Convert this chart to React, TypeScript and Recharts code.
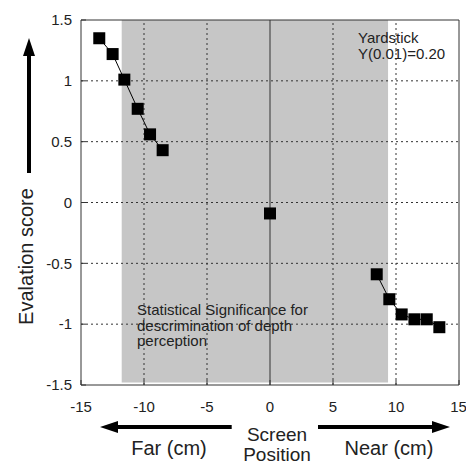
import { ScatterChart, Scatter, XAxis, YAxis, ReferenceArea, ReferenceLine } from 'recharts';

const farX = [-13.55, -12.49, -11.56, -10.5, -9.52, -8.52];
const farY = [1.35, 1.22, 1.01, 0.77, 0.56, 0.43];
const centerX = [0];
const centerY = [-0.09];
const nearX = [8.47, 9.47, 10.45, 11.46, 12.44, 13.44];
const nearY = [-0.59, -0.795, -0.92, -0.96, -0.96, -1.025];

const xTicks = [-15, -10, -5, 0, 5, 10, 15];
const yTicks = [-1.5, -1, -0.5, 0, 0.5, 1, 1.5];
const xGrid = [-10, -5, 5, 10];
const yGrid = [-1, -0.5, 0, 0.5, 1];
const significantRange = [-11.77, 9.37];

const toPoints = (xs: number[], ys: number[]) => xs.map((x, i) => ({ x, y: ys[i] }));

const FONT = '"Liberation Sans", Arial, Helvetica, sans-serif';
const INK = '#222';

const Square = (props: any) => {
  const { cx, cy } = props;
  if (cx == null || cy == null) return null;
  return <rect x={cx - 6} y={cy - 6} width={12} height={12} fill="#000" />;
};

const tickStyle = { fill: INK, fontSize: 15, fontFamily: FONT };

export default function App() {
  return (
    <div style={{ position: 'absolute', left: 0, top: 0, width: 466, height: 465, background: '#fff' }}>
      <ScatterChart width={466} height={465} margin={{ top: 19, right: 6, bottom: 0, left: 0 }}>
        <XAxis
          xAxisId="b"
          type="number"
          dataKey="x"
          domain={[-15, 15]}
          ticks={xTicks}
          height={80}
          tick={tickStyle}
          tickSize={-5}
          tickMargin={21}
          stroke="#333"
          allowDataOverflow
        />
        <XAxis
          xAxisId="t"
          orientation="top"
          type="number"
          dataKey="x"
          domain={[-15, 15]}
          ticks={xTicks}
          height={1}
          tick={false}
          stroke="#333"
        />
        <YAxis
          yAxisId="l"
          type="number"
          dataKey="y"
          domain={[-1.5, 1.5]}
          ticks={yTicks}
          width={81}
          tick={tickStyle}
          tickSize={-5}
          tickMargin={14}
          stroke="#333"
          allowDataOverflow
        />
        <YAxis
          yAxisId="r"
          orientation="right"
          type="number"
          dataKey="y"
          domain={[-1.5, 1.5]}
          ticks={yTicks}
          width={1}
          tick={false}
          stroke="#333"
        />
        <ReferenceArea
          xAxisId="b"
          yAxisId="l"
          x1={significantRange[0]}
          x2={significantRange[1]}
          y1={-1.48}
          y2={1.5}
          fill="#c6c6c6"
          fillOpacity={1}
          stroke="none"
        />
        {xGrid.map(v => (
          <ReferenceLine key={'x' + v} xAxisId="b" yAxisId="l" x={v} stroke="#333" strokeDasharray="2 3" />
        ))}
        {yGrid.map(v => (
          <ReferenceLine key={'y' + v} xAxisId="b" yAxisId="l" y={v} stroke="#333" strokeDasharray="2 3" />
        ))}
        <ReferenceLine xAxisId="b" yAxisId="l" x={0} stroke="#333" />
        <Scatter
          xAxisId="b"
          yAxisId="l"
          data={toPoints(farX, farY)}
          line={{ stroke: '#000', strokeWidth: 1 }}
          shape={<Square />}
          isAnimationActive={false}
        />
        <Scatter
          xAxisId="b"
          yAxisId="l"
          data={toPoints(centerX, centerY)}
          shape={<Square />}
          isAnimationActive={false}
        />
        <Scatter
          xAxisId="b"
          yAxisId="l"
          data={toPoints(nearX, nearY)}
          line={{ stroke: '#000', strokeWidth: 1 }}
          shape={<Square />}
          isAnimationActive={false}
        />
      </ScatterChart>
      <svg
        width={466}
        height={465}
        style={{ position: 'absolute', left: 0, top: 0, pointerEvents: 'none' }}
        fontFamily={FONT}
      >
        <text fill={INK} fontSize={15}>
          <tspan x={358} y={43}>Yardstick</tspan>
          <tspan x={358} y={58.5}>Y(0.01)=0.20</tspan>
        </text>
        <text fill={INK} fontSize={15}>
          <tspan x={137} y={315}>Statistical Significance for</tspan>
          <tspan x={137} y={330.5}>descrimination of depth</tspan>
          <tspan x={137} y={346}>perception</tspan>
        </text>
        <text fill={INK} fontSize={20} textAnchor="middle" transform="translate(33 256.5) rotate(-90)">
          Evalation score
        </text>
        <polygon points="27,173 31,173 31,56 35,56 29,38 23,56 27,56" fill="#000" />
        <polygon points="231.7,425 231.7,429 118,429 118,433 100,427 118,421 118,425" fill="#000" />
        <polygon points="318,425 318,429 432,429 432,433 450,427 432,421 432,425" fill="#000" />
        <text fill={INK} fontSize={20} textAnchor="middle" x={169} y={455}>Far (cm)</text>
        <text fill={INK} fontSize={19} textAnchor="middle">
          <tspan x={277} y={441}>Screen</tspan>
          <tspan x={277} y={461}>Position</tspan>
        </text>
        <text fill={INK} fontSize={20} textAnchor="middle" x={389} y={455}>Near (cm)</text>
      </svg>
    </div>
  );
}
